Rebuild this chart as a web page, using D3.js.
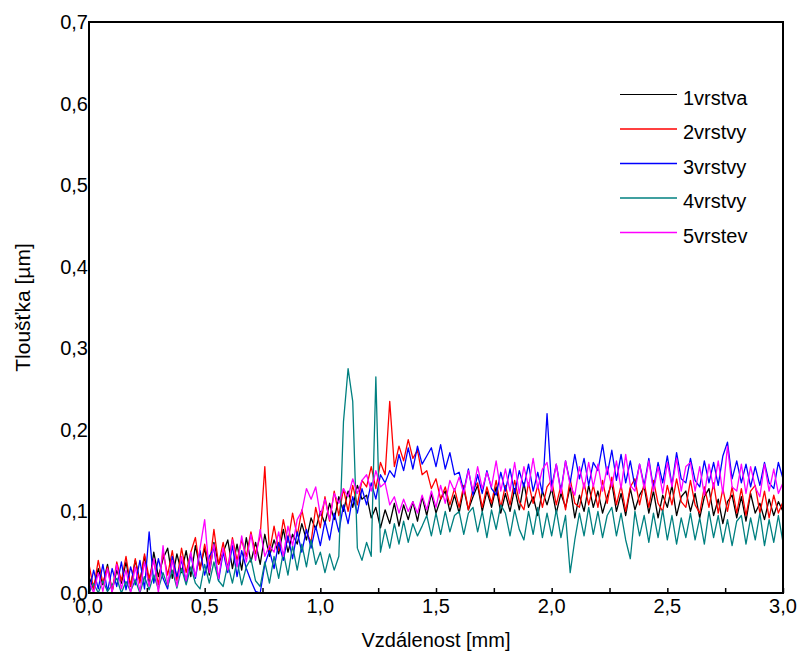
<!DOCTYPE html>
<html>
<head>
<meta charset="utf-8">
<script src="https://cdn.jsdelivr.net/npm/d3@7"></script>
<style>
    body { margin: 0; background: #fff; }
    svg text { font-family: "Liberation Sans", Arial, sans-serif; fill: #000; }
</style>
</head>
<body>
<svg width="798" height="655"></svg>
<script>
// Profile thickness, sampled every 0.02 mm from 0,0 to 3,0 mm
const step = 0.02;
const xTicks = [0, 0.5, 1.0, 1.5, 2.0, 2.5, 3.0];
const yTicks = [0, 0.1, 0.2, 0.3, 0.4, 0.5, 0.6, 0.7];
const names = ["1vrstva", "2vrstvy", "3vrstvy", "4vrstvy", "5vrstev"];
const colors = ["#000000", "#ff0000", "#0000ff", "#008080", "#ff00ff"];

const vrstva1 = [
    0.020, 0.005, 0.030, 0.010, 0.035, 0.002, 0.028, 0.012, 0.038, 0.008,
    0.040, 0.015, 0.045, 0.010, 0.050, 0.020, 0.042, 0.055, 0.018, 0.048,
    0.025, 0.052, 0.020, 0.058, 0.030, 0.055, 0.022, 0.062, 0.035, 0.050,
    0.065, 0.030, 0.060, 0.028, 0.068, 0.038, 0.062, 0.035, 0.072, 0.045,
    0.065, 0.048, 0.078, 0.050, 0.072, 0.060, 0.085, 0.065, 0.092, 0.078,
    0.100, 0.085, 0.110, 0.090, 0.118, 0.100, 0.125, 0.105, 0.132, 0.115,
    0.120, 0.092, 0.105, 0.080, 0.102, 0.085, 0.110, 0.082, 0.108, 0.090,
    0.112, 0.088, 0.118, 0.095, 0.122, 0.098, 0.115, 0.125, 0.100, 0.120,
    0.098, 0.128, 0.102, 0.118, 0.132, 0.100, 0.125, 0.105, 0.130, 0.098,
    0.122, 0.100, 0.128, 0.102, 0.135, 0.105, 0.118, 0.095, 0.125, 0.108,
    0.128, 0.098, 0.122, 0.105, 0.130, 0.092, 0.120, 0.100, 0.132, 0.105,
    0.125, 0.098, 0.118, 0.135, 0.100, 0.122, 0.095, 0.128, 0.102, 0.120,
    0.130, 0.098, 0.125, 0.092, 0.120, 0.105, 0.132, 0.095, 0.118, 0.125,
    0.100, 0.122, 0.092, 0.118, 0.128, 0.095, 0.115, 0.085, 0.112, 0.120,
    0.092, 0.118, 0.088, 0.122, 0.098, 0.110, 0.090, 0.115, 0.095, 0.112,
    0.100
];
const vrstvy2 = [
    0.035, 0.005, 0.040, 0.012, 0.032, 0.002, 0.038, 0.015, 0.045, 0.008,
    0.042, 0.012, 0.048, 0.018, 0.040, 0.010, 0.050, 0.022, 0.052, 0.015,
    0.055, 0.025, 0.050, 0.068, 0.028, 0.060, 0.032, 0.078, 0.035, 0.062,
    0.030, 0.068, 0.040, 0.065, 0.045, 0.075, 0.048, 0.070, 0.155, 0.050,
    0.082, 0.052, 0.090, 0.062, 0.098, 0.070, 0.102, 0.075, 0.062, 0.105,
    0.080, 0.118, 0.088, 0.125, 0.095, 0.128, 0.100, 0.132, 0.108, 0.138,
    0.130, 0.155, 0.128, 0.160, 0.145, 0.235, 0.155, 0.180, 0.162, 0.188,
    0.165, 0.175, 0.145, 0.150, 0.128, 0.140, 0.115, 0.130, 0.108, 0.128,
    0.105, 0.132, 0.102, 0.128, 0.135, 0.105, 0.130, 0.110, 0.138, 0.105,
    0.132, 0.108, 0.138, 0.112, 0.102, 0.135, 0.110, 0.132, 0.105, 0.130,
    0.138, 0.108, 0.132, 0.102, 0.140, 0.110, 0.105, 0.135, 0.108, 0.132,
    0.105, 0.138, 0.110, 0.142, 0.108, 0.132, 0.100, 0.130, 0.140, 0.108,
    0.135, 0.105, 0.138, 0.110, 0.100, 0.132, 0.108, 0.140, 0.112, 0.105,
    0.138, 0.108, 0.098, 0.130, 0.105, 0.135, 0.098, 0.128, 0.100, 0.130,
    0.098, 0.128, 0.095, 0.125, 0.132, 0.098, 0.125, 0.092, 0.120, 0.098,
    0.112
];
const vrstvy3 = [
    0.000, 0.028, 0.005, 0.035, 0.002, 0.030, 0.008, 0.038, 0.004, 0.032,
    0.010, 0.040, 0.005, 0.075, 0.012, 0.042, 0.018, 0.005, 0.045, 0.020,
    0.040, 0.012, 0.048, 0.018, 0.052, 0.022, 0.045, 0.055, 0.015, 0.050,
    0.025, 0.058, 0.020, 0.052, 0.030, 0.015, 0.002, 0.000, 0.035, 0.052,
    0.030, 0.062, 0.040, 0.070, 0.042, 0.075, 0.050, 0.078, 0.055, 0.082,
    0.058, 0.088, 0.065, 0.098, 0.075, 0.108, 0.085, 0.118, 0.098, 0.128,
    0.108, 0.135, 0.115, 0.145, 0.135, 0.150, 0.142, 0.170, 0.150, 0.178,
    0.152, 0.180, 0.158, 0.168, 0.178, 0.155, 0.182, 0.152, 0.172, 0.145,
    0.148, 0.125, 0.152, 0.120, 0.145, 0.122, 0.150, 0.128, 0.120, 0.148,
    0.125, 0.152, 0.122, 0.150, 0.130, 0.158, 0.125, 0.148, 0.122, 0.220,
    0.130, 0.158, 0.125, 0.162, 0.135, 0.170, 0.140, 0.165, 0.132, 0.160,
    0.150, 0.182, 0.145, 0.175, 0.138, 0.170, 0.135, 0.162, 0.130, 0.158,
    0.132, 0.165, 0.128, 0.160, 0.135, 0.168, 0.132, 0.172, 0.140, 0.135,
    0.165, 0.138, 0.130, 0.162, 0.135, 0.160, 0.132, 0.168, 0.185, 0.140,
    0.162, 0.135, 0.158, 0.130, 0.155, 0.132, 0.160, 0.135, 0.128, 0.160,
    0.140
];
const vrstvy4 = [
    0.000, 0.012, 0.000, 0.015, 0.002, 0.010, 0.018, 0.000, 0.014, 0.002,
    0.016, 0.000, 0.020, 0.004, 0.022, 0.005, 0.025, 0.008, 0.028, 0.006,
    0.030, 0.010, 0.032, 0.012, 0.005, 0.035, 0.012, 0.038, 0.015, 0.008,
    0.035, 0.012, 0.040, 0.010, 0.032, 0.042, 0.015, 0.008, 0.038, 0.012,
    0.045, 0.018, 0.050, 0.022, 0.058, 0.028, 0.060, 0.032, 0.065, 0.035,
    0.050, 0.025, 0.048, 0.028, 0.045, 0.210, 0.275, 0.235, 0.055, 0.040,
    0.062, 0.045, 0.265, 0.050, 0.078, 0.055, 0.085, 0.060, 0.088, 0.062,
    0.085, 0.070, 0.082, 0.095, 0.070, 0.098, 0.072, 0.100, 0.075, 0.095,
    0.100, 0.072, 0.098, 0.105, 0.075, 0.100, 0.068, 0.102, 0.078, 0.108,
    0.098, 0.070, 0.102, 0.078, 0.065, 0.100, 0.072, 0.105, 0.068, 0.098,
    0.070, 0.102, 0.068, 0.095, 0.025, 0.065, 0.098, 0.070, 0.105, 0.072,
    0.100, 0.068, 0.095, 0.105, 0.070, 0.098, 0.065, 0.042, 0.100, 0.070,
    0.095, 0.062, 0.098, 0.068, 0.102, 0.065, 0.095, 0.060, 0.092, 0.068,
    0.098, 0.065, 0.092, 0.060, 0.100, 0.068, 0.095, 0.062, 0.090, 0.058,
    0.088, 0.095, 0.060, 0.092, 0.065, 0.098, 0.058, 0.090, 0.062, 0.095,
    0.062
];
const vrstev5 = [
    0.015, 0.000, 0.025, 0.002, 0.030, 0.000, 0.035, 0.005, 0.028, 0.000,
    0.032, 0.002, 0.038, 0.008, 0.042, 0.000, 0.058, 0.010, 0.040, 0.008,
    0.045, 0.015, 0.050, 0.020, 0.055, 0.090, 0.025, 0.060, 0.018, 0.055,
    0.028, 0.065, 0.032, 0.070, 0.038, 0.072, 0.040, 0.078, 0.045, 0.058,
    0.050, 0.075, 0.045, 0.082, 0.058, 0.090, 0.100, 0.128, 0.115, 0.130,
    0.095, 0.115, 0.090, 0.122, 0.110, 0.128, 0.118, 0.140, 0.122, 0.138,
    0.145, 0.125, 0.150, 0.130, 0.135, 0.108, 0.118, 0.098, 0.115, 0.100,
    0.112, 0.098, 0.120, 0.102, 0.125, 0.105, 0.132, 0.110, 0.138, 0.125,
    0.142, 0.122, 0.150, 0.125, 0.155, 0.128, 0.148, 0.130, 0.162, 0.125,
    0.152, 0.125, 0.160, 0.122, 0.155, 0.130, 0.165, 0.128, 0.152, 0.160,
    0.125, 0.158, 0.122, 0.162, 0.132, 0.120, 0.155, 0.128, 0.160, 0.130,
    0.158, 0.125, 0.155, 0.130, 0.162, 0.128, 0.170, 0.132, 0.125, 0.158,
    0.128, 0.162, 0.125, 0.155, 0.122, 0.160, 0.130, 0.165, 0.125, 0.155,
    0.160, 0.125, 0.155, 0.120, 0.158, 0.128, 0.162, 0.122, 0.180, 0.130,
    0.125, 0.158, 0.122, 0.155, 0.130, 0.118, 0.158, 0.125, 0.152, 0.122,
    0.135
];
const series = [vrstva1, vrstvy2, vrstvy3, vrstvy4, vrstev5];

const svg = d3.select("svg");
const margin = {left: 89, right: 15, top: 22, bottom: 62};
const W = 798, H = 655;

const x = d3.scaleLinear().domain([0, 3]).range([margin.left, W - margin.right]);
const y = d3.scaleLinear().domain([0, 0.7]).range([H - margin.bottom, margin.top]);
const fmt = d => d3.format(".1f")(d).replace(".", ",");

// lines
const line = d3.line()
    .x((d, i) => x(i * step))
    .y(d => y(d));

series.forEach((s, k) => {
    svg.append("path")
        .datum(s)
        .attr("d", line)
        .attr("fill", "none")
        .attr("stroke", colors[k])
        .attr("stroke-width", 1.3)
        .attr("stroke-linejoin", "round");
});

// x axis, ticks inward
const xAxis = svg.append("g")
    .attr("transform", `translate(0,${y(0)})`)
    .call(d3.axisBottom(x).tickValues(d3.range(0, 3.01, 0.25)).tickSize(-5).tickFormat(""));
xAxis.select(".domain").remove();
xAxis.selectAll("line").attr("stroke-width", 1.5);

svg.selectAll(".xlab")
    .data(xTicks)
    .enter().append("text")
    .attr("x", d => x(d))
    .attr("y", y(0) + 20)
    .attr("text-anchor", "middle")
    .attr("font-size", 20)
    .text(fmt);

// y axis labels
svg.selectAll(".ylab")
    .data(yTicks)
    .enter().append("text")
    .attr("x", x(0) - 1)
    .attr("y", d => y(d) + 7)
    .attr("text-anchor", "end")
    .attr("font-size", 20)
    .text(fmt);

// frame
svg.append("rect")
    .attr("x", x(0)).attr("y", y(0.7))
    .attr("width", x(3) - x(0)).attr("height", y(0) - y(0.7))
    .attr("fill", "none")
    .attr("stroke", "#000")
    .attr("stroke-width", 2);

// axis titles
svg.append("text")
    .attr("x", (x(0) + x(3)) / 2)
    .attr("y", 647)
    .attr("text-anchor", "middle")
    .attr("font-size", 20)
    .text("Vzdálenost [mm]");

svg.append("text")
    .attr("transform", `translate(30,${(y(0) + y(0.7)) / 2}) rotate(-90)`)
    .attr("text-anchor", "middle")
    .attr("font-size", 21)
    .text("Tloušťka [µm]");

// legend
const legend = svg.append("g");
names.forEach((n, k) => {
    const ly = 94.5 + k * 34.5;
    legend.append("line")
        .attr("x1", 620).attr("x2", 677)
        .attr("y1", ly).attr("y2", ly)
        .attr("stroke", colors[k])
        .attr("stroke-width", k === 0 ? 1 : 1.3);
    legend.append("text")
        .attr("x", 683).attr("y", ly + 10)
        .attr("font-size", 20)
        .text(n);
});
</script>
</body>
</html>
